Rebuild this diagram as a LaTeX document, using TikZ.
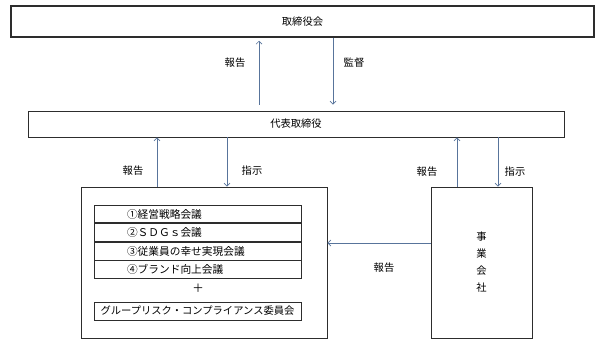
\documentclass[tikz,border=0pt]{standalone}
\usepackage{fontspec}
\setmainfont{Noto Sans CJK JP}
\usepackage{tikz}
\usetikzlibrary{positioning, arrows.meta, calc}
\definecolor{linkc}{RGB}{88,116,155}
\definecolor{edge}{RGB}{45,45,45}

\begin{document}
\begin{tikzpicture}[x=1pt, y=-1pt,
  every node/.style={font=\fontsize{10.3}{12}\selectfont},
  box/.style={draw=edge, line width=0.8pt, inner sep=0pt},
  row/.style={box, minimum width=207pt, minimum height=17.75pt, text width=141pt, inner xsep=33pt, align=left, font=\fontsize{10.7}{12}\selectfont},
  arr/.style={linkc, line width=0.7pt, -{Straight Barb[length=3pt, width=6pt]}},
  lab/.style={text=black}]
\useasboundingbox (0,0) rectangle (600,343);
\node[box, line width=1.5pt, minimum width=583pt, minimum height=31pt] (board) at (302.5,21.5) {取締役会};
\node[box, minimum width=536pt, minimum height=26pt] (ceo) at (296,124) {代表取締役};
\node[box, minimum width=246pt, minimum height=151pt] (grp) at (204,262.5) {};
\node[box, minimum width=101pt, minimum height=151pt] (biz) at (481.5,262.5) {};
\node[align=center, font=\fontsize{10.3}{17}\selectfont] (bizname) at (biz.center) {事\\業\\会\\社};
% conferences inside the group box
\node[row] (m1) at (197.5,214) {①経営戦略会議};
\node[row, below=0pt of m1] (m2) {②ＳＤＧｓ会議};
\node[row, below=0pt of m2] (m3) {③従業員の幸せ実現会議};
\node[row, below=0pt of m3] (m4) {④ブランド向上会議};
\node[font=\fontsize{11.5}{12}\selectfont] (plus) at (198,288) {＋};
\node[box, minimum width=207pt, minimum height=18pt] (risk) at (197.5,311) {グループリスク・コンプライアンス委員会};
% reports and orders
\draw[arr, shorten <=6pt, shorten >=3pt] ([xshift=-37pt]ceo.north) -- ([xshift=-43.5pt]board.south);
\draw[arr, shorten >=6pt] ([xshift=30.5pt]board.south) -- ([xshift=37pt]ceo.north);
\draw[arr] ([xshift=-47pt]grp.north) -- ([xshift=-139pt]ceo.south);
\draw[arr] ([xshift=-69pt]ceo.south) -- ([xshift=23pt]grp.north);
\draw[arr] ([xshift=-24.5pt]biz.north) -- ([xshift=161pt]ceo.south);
\draw[arr] ([xshift=202pt]ceo.south) -- ([xshift=16.5pt]biz.north);
\draw[arr] ([yshift=19.5pt]biz.west) -- ([yshift=19.5pt]grp.east);
\node[lab] (l1) at (235,63) {報告};
\node[lab] (l2) at (354,63) {監督};
\node[lab] (l3) at (133,171) {報告};
\node[lab] (l4) at (252,171) {指示};
\node[lab] (l5) at (427,172) {報告};
\node[lab] (l6) at (515,172) {指示};
\node[lab] (l7) at (384,268) {報告};
\end{tikzpicture}
\end{document}
